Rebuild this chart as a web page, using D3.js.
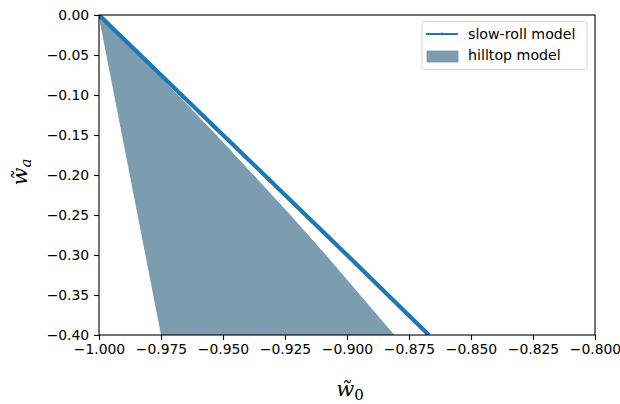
<!DOCTYPE html>
<html><head><meta charset="utf-8">
<script src="https://cdn.jsdelivr.net/npm/d3@7"></script>
<style>body{margin:0;background:#fff}</style>
</head><body>
<svg id="c" width="620" height="404"></svg>
<script>
// Data
const xTicks = [-1.000,-0.975,-0.950,-0.925,-0.900,-0.875,-0.850,-0.825,-0.800];
const yTicks = [0.00,-0.05,-0.10,-0.15,-0.20,-0.25,-0.30,-0.35,-0.40];
const slowRollW0 = [-1.0, -0.9667, -0.9333, -0.9, -0.867];
const slowRollWa = [0.0, -0.1, -0.2, -0.3, -0.4];
// hilltop region: boundary (right edge top->bottom, then left edge bottom->top)
const hillRightW0 = [-1.0, -0.9840, -0.9684, -0.9529, -0.9379, -0.9230, -0.9087, -0.8949, -0.8811];
const hillRightWa = [0.0, -0.05, -0.10, -0.15, -0.20, -0.25, -0.30, -0.35, -0.40];
const hillLeftW0 = [-0.9748, -1.0];
const hillLeftWa = [-0.40, 0.0];
const legendLabels = ["slow-roll model", "hilltop model"];

const svg = d3.select("#c");
const L=99, R=595, T=15, B=335;
const x = d3.scaleLinear().domain([-1.0,-0.8]).range([L,R]);
const y = d3.scaleLinear().domain([0,-0.4]).range([T,B]);
const fmtMinus = s => s.replace("-", "\u2212");

svg.append("defs").append("clipPath").attr("id","clip")
  .append("rect").attr("x",L).attr("y",T).attr("width",R-L).attr("height",B-T);

const g = svg.append("g").attr("clip-path","url(#clip)");
const hill = hillRightW0.map((v,i)=>[v,hillRightWa[i]])
  .concat(hillLeftW0.map((v,i)=>[v,hillLeftWa[i]]));
g.append("path").datum(hill)
  .attr("d", d3.line().x(d=>x(d[0])).y(d=>y(d[1])).curve(d3.curveLinearClosed))
  .attr("fill","#7c9db0").attr("stroke","#6f93a8").attr("stroke-width",0.8);

const sr = slowRollW0.map((v,i)=>[v,slowRollWa[i]]);
g.append("path").datum(sr)
  .attr("d", d3.line().x(d=>x(d[0])).y(d=>y(d[1])))
  .attr("fill","none").attr("stroke","#1f77b4").attr("stroke-width",4.2);

// axes
const font = "DejaVu Sans, sans-serif";
const xa = svg.append("g").attr("transform",`translate(0,${B})`)
  .call(d3.axisBottom(x).tickValues(xTicks).tickSize(4.9).tickPadding(4.5)
    .tickFormat(d=>fmtMinus(d3.format(".3f")(d))));
const ya = svg.append("g").attr("transform",`translate(${L},0)`)
  .call(d3.axisLeft(y).tickValues(yTicks).tickSize(4.9).tickPadding(4.9)
    .tickFormat(d=>fmtMinus(d3.format(".2f")(d))));
[xa,ya].forEach(a=>{
  a.select(".domain").remove();
  a.selectAll("text").attr("font-family",font).attr("font-size",13.9).attr("fill","#000");
  a.selectAll("line").attr("stroke","#000").attr("stroke-width",1.1);
});
svg.append("rect").attr("x",L).attr("y",T).attr("width",R-L).attr("height",B-T)
  .attr("fill","none").attr("stroke","#000").attr("stroke-width",1.1);

// axis labels
const xl = svg.append("text").attr("x",350).attr("y",396).attr("text-anchor","middle")
  .attr("font-family","DejaVu Serif, serif").attr("font-size",21);
xl.append("tspan").attr("font-style","italic").text("w\u0303");
xl.append("tspan").attr("font-size",15).attr("dy",4).text("0");
const yl = svg.append("text").attr("transform","translate(27,172) rotate(-90)").attr("text-anchor","middle")
  .attr("font-family","DejaVu Serif, serif").attr("font-size",21);
yl.append("tspan").attr("font-style","italic").text("w\u0303");
yl.append("tspan").attr("font-style","italic").attr("font-size",15).attr("dy",4).text("a");

// legend
const lg = svg.append("g");
lg.append("rect").attr("x",422).attr("y",21.5).attr("width",165).attr("height",48).attr("rx",2.5)
  .attr("fill","#fff").attr("fill-opacity",0.8).attr("stroke","#ccc").attr("stroke-width",0.8);
lg.append("line").attr("x1",426).attr("x2",458).attr("y1",34).attr("y2",34)
  .attr("stroke","#1f77b4").attr("stroke-width",2);
lg.append("circle").attr("cx",442).attr("cy",34).attr("r",1.4).attr("fill","#1f77b4");
lg.append("rect").attr("x",427).attr("y",51).attr("width",31).attr("height",11)
  .attr("fill","#7c9db0").attr("stroke","#6f93a8").attr("stroke-width",0.8);
legendLabels.forEach((t,i)=>{
  lg.append("text").attr("x",468).attr("y",39+i*21).attr("font-family",font)
    .attr("font-size",14.2).attr("fill","#000").text(t);
});
</script>
</body></html>
